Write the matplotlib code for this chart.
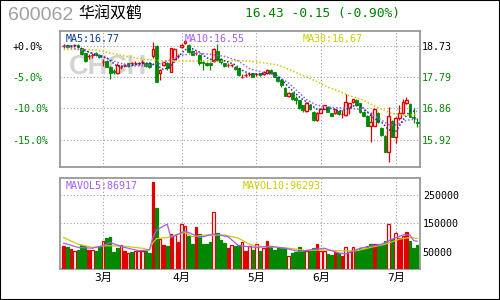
import matplotlib
matplotlib.use('Agg')
import matplotlib.pyplot as plt
from matplotlib.patches import Rectangle
import numpy as np

# ==============================================================================
# 数据
# ==============================================================================
opens = [18.73, 18.75, 18.73, 18.75, 18.77, 18.66, 18.51, 18.43, 18.46, 18.53,
         18.47, 18.25, 18.29, 18.11, 17.99, 17.91, 18.11, 18.16, 18.21, 18.21,
         18.23, 18.21, 18.26, 18.21, 18.23, 18.43, 18.73, 17.91, 18.16, 18.23,
         17.96, 18.33, 18.43, 18.69, 18.81, 18.76, 18.58, 18.53, 18.46, 18.26,
         18.23, 18.23, 18.28, 18.59, 18.33, 18.21, 18.16, 18.15, 18.11, 18.06,
         17.81, 17.86, 17.89, 17.91, 17.88, 17.91, 17.88, 17.91, 18.01, 17.94,
         17.81, 17.71, 17.48, 17.23, 17.33, 17.18, 17.10, 16.95, 16.78, 16.97,
         16.75, 16.50, 16.73, 16.85, 16.91, 16.71, 16.71, 16.78, 16.68, 16.66,
         16.86, 17.04, 17.11, 17.01, 16.76, 16.64, 16.34, 16.34, 16.73, 16.28,
         16.03, 15.56, 16.49, 16.01, 16.58, 16.71, 17.01, 16.99, 16.61, 16.44]
closes = [18.73, 18.69, 18.73, 18.75, 18.70, 18.49, 18.29, 18.43, 18.46, 18.45,
          18.39, 18.25, 18.11, 17.91, 17.95, 18.16, 18.11, 18.16, 18.13, 18.21,
          18.23, 18.21, 18.26, 18.13, 18.11, 18.64, 17.66, 18.01, 18.24, 18.06,
          18.66, 18.64, 18.43, 18.76, 18.88, 18.56, 18.47, 18.53, 18.21, 18.21,
          18.16, 18.16, 18.64, 18.30, 18.25, 18.13, 18.16, 18.15, 18.03, 17.86,
          17.81, 17.86, 17.89, 17.81, 17.88, 17.86, 17.96, 18.01, 17.91, 17.81,
          17.68, 17.56, 17.24, 17.33, 17.13, 17.12, 16.87, 16.80, 17.02, 16.83,
          16.50, 16.72, 16.85, 16.95, 16.76, 16.64, 16.83, 16.68, 16.68, 17.04,
          17.01, 17.13, 16.96, 16.74, 16.64, 16.34, 16.46, 16.83, 16.44, 16.06,
          15.56, 16.63, 16.01, 16.58, 16.73, 17.06, 17.11, 16.61, 16.58, 16.43]
highs = [18.79, 18.77, 18.77, 18.78, 18.79, 18.67, 18.52, 18.49, 18.51, 18.55,
         18.48, 18.34, 18.30, 18.13, 18.03, 18.21, 18.17, 18.21, 18.23, 18.25,
         18.27, 18.26, 18.31, 18.23, 18.25, 18.84, 18.75, 18.03, 18.26, 18.24,
         18.68, 18.66, 18.50, 18.78, 18.91, 18.78, 18.60, 18.58, 18.48, 18.28,
         18.25, 18.25, 18.66, 18.79, 18.36, 18.23, 18.21, 18.19, 18.13, 18.08,
         17.88, 17.91, 17.94, 17.93, 17.93, 17.93, 17.98, 18.03, 18.03, 17.96,
         17.83, 17.73, 17.50, 17.35, 17.35, 17.22, 17.12, 16.97, 17.04, 16.99,
         16.77, 16.74, 16.87, 16.97, 16.93, 16.73, 16.85, 16.80, 16.81, 17.28,
         17.03, 17.15, 17.13, 17.03, 16.78, 16.66, 16.76, 16.88, 16.75, 16.30,
         16.05, 16.91, 16.51, 16.60, 16.96, 17.14, 17.20, 17.01, 16.86, 16.56]
lows = [18.66, 18.67, 18.67, 18.70, 18.68, 18.47, 18.24, 18.33, 18.38, 18.43,
        18.36, 18.13, 18.09, 17.73, 17.90, 17.88, 18.05, 18.09, 18.10, 18.15,
        18.17, 18.16, 18.20, 18.11, 18.06, 18.36, 17.64, 17.71, 18.12, 18.01,
        17.94, 18.30, 18.38, 18.66, 18.79, 18.54, 18.45, 18.45, 18.16, 18.01,
        18.14, 18.01, 18.26, 18.28, 18.20, 18.10, 18.11, 18.10, 18.00, 17.84,
        17.76, 17.80, 17.84, 17.79, 17.83, 17.84, 17.86, 17.89, 17.89, 17.79,
        17.66, 17.51, 17.22, 17.21, 17.11, 16.98, 16.85, 16.76, 16.74, 16.81,
        16.48, 16.48, 16.71, 16.83, 16.74, 16.62, 16.69, 16.66, 16.58, 16.64,
        16.68, 17.02, 16.94, 16.72, 16.62, 16.32, 15.84, 16.32, 16.42, 16.04,
        15.54, 15.24, 15.99, 15.81, 16.51, 16.69, 16.99, 16.59, 16.41, 16.30]

# 成交量（千股）与柱样式：R 实心红、r 空心红、g 绿
volume_k = [69, 68, 58, 52, 57, 73, 71, 56, 56, 53,
            71, 88, 99, 102, 47, 64, 72, 52, 45, 50,
            52, 52, 51, 52, 46, 297, 205, 95, 74, 71,
            112, 109, 85, 147, 140, 107, 78, 138, 113, 78,
            78, 85, 190, 116, 92, 82, 64, 73, 69, 73,
            85, 53, 69, 56, 78, 53, 62, 89, 67, 56,
            61, 61, 61, 35, 46, 47, 67, 51, 52, 51,
            64, 76, 53, 53, 43, 39, 47, 44, 35, 67,
            47, 67, 56, 62, 59, 71, 76, 78, 76, 74,
            86, 147, 95, 116, 97, 106, 120, 89, 61, 74]
volume_style = ("RgRrgggRrg" "grggggrRrg" "rrrggRgrRg" "RrRrrggRgg"
                "ggrgggRrgg" "rRrgrgrRgg" "gggrggggrg" "gRrrggRgRr"
                "rrgggggRgg" "grgrRrRggg")

# 均线（按图上读点）
ma5_idx = [0, 2, 4, 6, 9, 12, 15, 18, 21, 24, 26, 28, 30, 32, 34, 36, 38, 40, 42, 44,
           46, 48, 50, 52, 55, 58, 60, 63, 66, 68, 71, 73, 75, 77, 79, 81, 83, 85, 87, 89,
           91, 93, 95, 97, 99]
ma5_val = [18.74, 18.74, 18.71, 18.60, 18.46, 18.38, 18.12, 18.12, 18.20, 18.22,
           18.15, 18.02, 18.12, 18.40, 18.62, 18.65, 18.55, 18.38, 18.30, 18.33,
           18.25, 18.17, 18.00, 17.90, 17.88, 17.93, 17.83, 17.50, 17.20, 17.05,
           16.83, 16.85, 16.86, 16.78, 16.82, 16.93, 16.96, 16.75, 16.55, 16.45,
           16.22, 16.16, 16.50, 16.78, 16.77]
ma10_idx = [0, 2, 6, 11, 14, 18, 22, 27, 30, 33, 37, 41, 45, 49, 52, 57, 60, 63, 68, 71,
            76, 80, 84, 88, 91, 93, 96, 99]
ma10_val = [18.72, 18.68, 18.58, 18.41, 18.28, 18.14, 18.13, 18.20, 18.33, 18.45,
            18.52, 18.48, 18.42, 18.28, 18.05, 17.90, 17.82, 17.62, 17.12, 16.95,
            16.88, 16.86, 16.82, 16.58, 16.37, 16.36, 16.50, 16.55]
ma30_idx = [0, 5, 9, 13, 18, 22, 27, 33, 40, 46, 50, 55, 60, 63, 68, 71, 74, 77, 80, 84,
            88, 92, 96, 99]
ma30_val = [18.62, 18.63, 18.61, 18.52, 18.41, 18.34, 18.29, 18.28, 18.28, 18.28,
            18.29, 18.24, 18.16, 18.03, 17.80, 17.66, 17.49, 17.38, 17.24, 17.10,
            16.88, 16.70, 16.65, 16.67]

mavol5_idx = [0, 4, 8, 11, 13, 17, 21, 24, 25, 26, 28, 29, 30, 34, 36, 38, 42, 46, 49, 52,
              54, 58, 62, 66, 69, 73, 77, 79, 83, 86, 89, 92, 95, 97, 98, 99]
mavol5_k = [80, 65, 62, 71, 82, 65, 53, 56, 101, 125, 141, 147, 100, 123, 112, 100, 112, 103, 71, 67,
            65, 69, 62, 50, 56, 62, 45, 42, 62, 69, 76, 94, 109, 109, 89, 86.917]
mavol10_idx = [0, 4, 8, 12, 17, 22, 24, 25, 26, 29, 34, 36, 40, 45, 49, 52, 54, 58, 63, 68,
               72, 77, 82, 86, 90, 94, 97, 99]
mavol10_k = [100, 76, 65, 71, 69, 62, 56, 82, 96, 100, 118, 103, 109, 109, 97, 76, 69, 67, 62, 54,
             56, 53, 53, 65, 76, 94, 100, 96.293]

price_ticks = [18.73, 17.79, 16.86, 15.92]
price_labels = ['18.73', '17.79', '16.86', '15.92']
pct_labels = ['+0.0%', '-5.0%', '-10.0%', '-15.0%']
vol_ticks = [250000, 150000, 50000]
vol_labels = ['250000', '150000', '50000']
month_pos = [11, 33, 54, 72, 93]
month_labels = ['3月', '4月', '5月', '6月', '7月']

# ==============================================================================
# 样式
# ==============================================================================
RED = '#e00000'
GREEN = '#008800'
BLUE = '#0a3d91'
PURPLE = '#a65cf5'
YELLOW = '#cccc00'
GRID = '#a0a0a0'
FRAME = '#999999'
W, H = 500, 300

plt.rcParams['font.family'] = ['DejaVu Sans Mono', 'Noto Sans CJK SC']
plt.rcParams['font.size'] = 7.2


def px(x, y):
    """像素坐标 -> figure 坐标"""
    return x / W, 1 - y / H


def style_axes(ax):
    for s in ax.spines.values():
        s.set_color(FRAME)
        s.set_linewidth(1.3)
    ax.set_xlim(-1.04, 99.8)
    ax.set_xticks(month_pos)
    ax.grid(True, color=GRID, linestyle=(0, (1, 2)), linewidth=0.8)
    ax.set_axisbelow(True)


fig = plt.figure(figsize=(5, 3), dpi=100)
fig.patches.append(Rectangle((0, 0), 1, 1, transform=fig.transFigure,
                             fill=False, edgecolor='black', linewidth=1.5))

# --- 标题 ---
fig.text(*px(8, 16), '600062', family='Liberation Sans', fontsize=14,
         color='#a0a0a0', ha='left', va='center')
fig.text(*px(78, 14), '华润双鹤', family='Noto Sans CJK SC', fontsize=11.5,
         color='black', ha='left', va='center')
fig.text(*px(245, 14), '16.43 -0.15 (-0.90%)', fontsize=9.3,
         color='#008000', ha='left', va='center')

# ==============================================================================
# K 线
# ==============================================================================
ax_p = fig.add_axes([60 / W, 1 - 167 / H, 360 / W, 136 / H])
style_axes(ax_p)
ax_p.set_ylim(15.10, 19.18)
ax_p.set_yticks(price_ticks, pct_labels)
ax_p.tick_params(axis='x', length=0, labelbottom=False)
ax_p.tick_params(axis='y', length=0, pad=34.5)
for lab in ax_p.get_yticklabels():
    lab.set_horizontalalignment('left')
    lab.set_color('black' if lab.get_text() == '+0.0%' else GREEN)

ax_r = ax_p.twinx()
ax_r.set_ylim(15.10, 19.18)
ax_r.set_yticks(price_ticks, price_labels)
ax_r.tick_params(axis='y', length=0, pad=1.2)
for s in ax_r.spines.values():
    s.set_visible(False)
for lab in ax_r.get_yticklabels():
    lab.set_color('black' if lab.get_text() == '18.73' else GREEN)

# 水印
ax_p.text(*px(69, 74), 'CHCH', transform=fig.transFigure, family='Liberation Sans',
          fontweight='bold', fontsize=19.5, color='#d3d3d3', ha='left', va='baseline', zorder=1)

x = np.arange(len(closes))
o, c = np.array(opens), np.array(closes)
hi, lo = np.array(highs), np.array(lows)
up = c >= o
ax_p.vlines(x, lo, hi, colors=np.where(up, RED, GREEN), linewidth=0.9, zorder=3)
ax_p.bar(x[up], (c - o)[up], bottom=o[up], width=0.72, facecolor='white',
         edgecolor=RED, linewidth=1.0, zorder=4)
ax_p.bar(x[~up], (o - c)[~up], bottom=c[~up], width=0.8, facecolor=GREEN,
         edgecolor=GREEN, linewidth=0.6, zorder=4)

dots = (0, (1, 1.3))
ax_p.plot(ma30_idx, ma30_val, color=YELLOW, lw=1.1, ls=dots, zorder=5)
ax_p.plot(ma10_idx, ma10_val, color=PURPLE, lw=1.1, ls=dots, zorder=5)
ax_p.plot(ma5_idx, ma5_val, color=BLUE, lw=1.1, ls=dots, zorder=5)

fig.text(*px(66, 39), 'MA5:16.77', color=BLUE, ha='left', va='center')
fig.text(*px(185, 39), 'MA10:16.55', color=PURPLE, ha='left', va='center')
fig.text(*px(303, 39), 'MA30:16.67', color=YELLOW, ha='left', va='center')

# ==============================================================================
# 成交量
# ==============================================================================
VOL_FLOOR = -11700
ax_v = fig.add_axes([60 / W, 1 - 269 / H, 360 / W, 91 / H])
style_axes(ax_v)
ax_v.set_ylim(VOL_FLOOR, 311000)
ax_v.set_yticks(vol_ticks[:2])
ax_v.yaxis.tick_right()
ax_v.tick_params(axis='y', length=0, labelright=False)
ax_v.set_xticks(month_pos, month_labels)
ax_v.tick_params(axis='x', length=0, pad=3, labelsize=8)

# 右侧刻度文字（含 50000，无网格线）
ax_vr = ax_v.twinx()
ax_vr.set_ylim(VOL_FLOOR, 311000)
ax_vr.set_yticks(vol_ticks, vol_labels)
ax_vr.tick_params(axis='y', length=0, pad=2)
for s in ax_vr.spines.values():
    s.set_visible(False)

vol = np.array(volume_k) * 1000
sty = np.array(list(volume_style))
for key, fc, ec in [('R', RED, RED), ('r', 'white', RED), ('g', GREEN, GREEN)]:
    m = sty == key
    ax_v.bar(x[m], vol[m] - VOL_FLOOR, bottom=VOL_FLOOR, width=0.72,
             facecolor=fc, edgecolor=ec, linewidth=0.9, zorder=3)

ax_v.plot(mavol10_idx, np.array(mavol10_k) * 1000, color=YELLOW, lw=0.9, zorder=5)
ax_v.plot(mavol5_idx, np.array(mavol5_k) * 1000, color=PURPLE, lw=0.9, zorder=5)

fig.text(*px(66, 186), 'MAVOL5:86917', color=PURPLE, ha='left', va='center')
fig.text(*px(243, 186), 'MAVOL10:96293', color=YELLOW, ha='left', va='center')

fig.savefig('out.png', dpi=100)
